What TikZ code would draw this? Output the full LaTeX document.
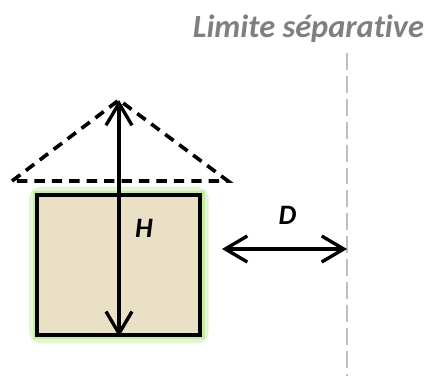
\documentclass[tikz,border=0pt]{standalone}
\usepackage{fontspec}
\setmainfont[Ligatures=NoCommon]{Carlito}
\usetikzlibrary{arrows.meta, positioning}
\definecolor{limgray}{HTML}{7F7F7F}
\definecolor{lineGray}{HTML}{BFBFBF}
\definecolor{wallTan}{HTML}{EAE0C6}
\definecolor{glowGreen}{HTML}{C8EBAA}

\begin{document}
\begin{tikzpicture}[
  dim/.style={line width=2.4pt, {Straight Barb[length=0.55cm, width=0.65cm]}-{Straight Barb[length=0.55cm, width=0.65cm]}},
  lbl/.style={font=\fontsize{20}{24}\selectfont\bfseries\itshape, anchor=base}
]
  \useasboundingbox (0,0) rectangle (10.75,9.4);

  % Title
  \node[font=\fontsize{23}{27}\selectfont\bfseries\itshape, text=limgray, anchor=base] (title) at (7.71,8.475) {Limite séparative};

  % Limite line
  \coordinate (limtop) at (8.675,8.075);
  \coordinate (limbot) at (8.675,0);
  \draw[lineGray, line width=1.4pt, dash pattern=on 12pt off 4.3pt] (limtop) -- (limbot);

  % Roof (dashed)
  \coordinate (roofL) at (0.3,4.875);
  \coordinate (roofR) at (5.7,4.875);
  \coordinate (roof) at (2.975,6.9);
  \draw[line width=2.6pt, dash pattern=on 7.4pt off 5pt] (roofL) -- (roof) -- (roofR) -- cycle;

  % House
  \node[draw=glowGreen!50, line width=12pt, rounded corners=3pt, minimum width=4.075cm, minimum height=3.5cm, inner sep=0pt] (glow) at (2.97,2.775) {};
  \node[draw=glowGreen, line width=6pt, minimum width=4.075cm, minimum height=3.5cm, inner sep=0pt] at (glow) {};
  \node[draw, line width=2.6pt, fill=wallTan, minimum width=4.075cm, minimum height=3.5cm, inner sep=0pt] (house) at (2.97,2.775) {};

  % H
  \draw[dim] (roof) -- (roof |- house.south);
  \node[lbl] (H) at (3.6,3.475) {H};

  % D
  \coordinate (dstart) at (5.55,3.175);
  \draw[dim] (dstart) -- (dstart -| limtop);
  \node[lbl] (D) at (7.19,3.8) {D};
\end{tikzpicture}
\end{document}
